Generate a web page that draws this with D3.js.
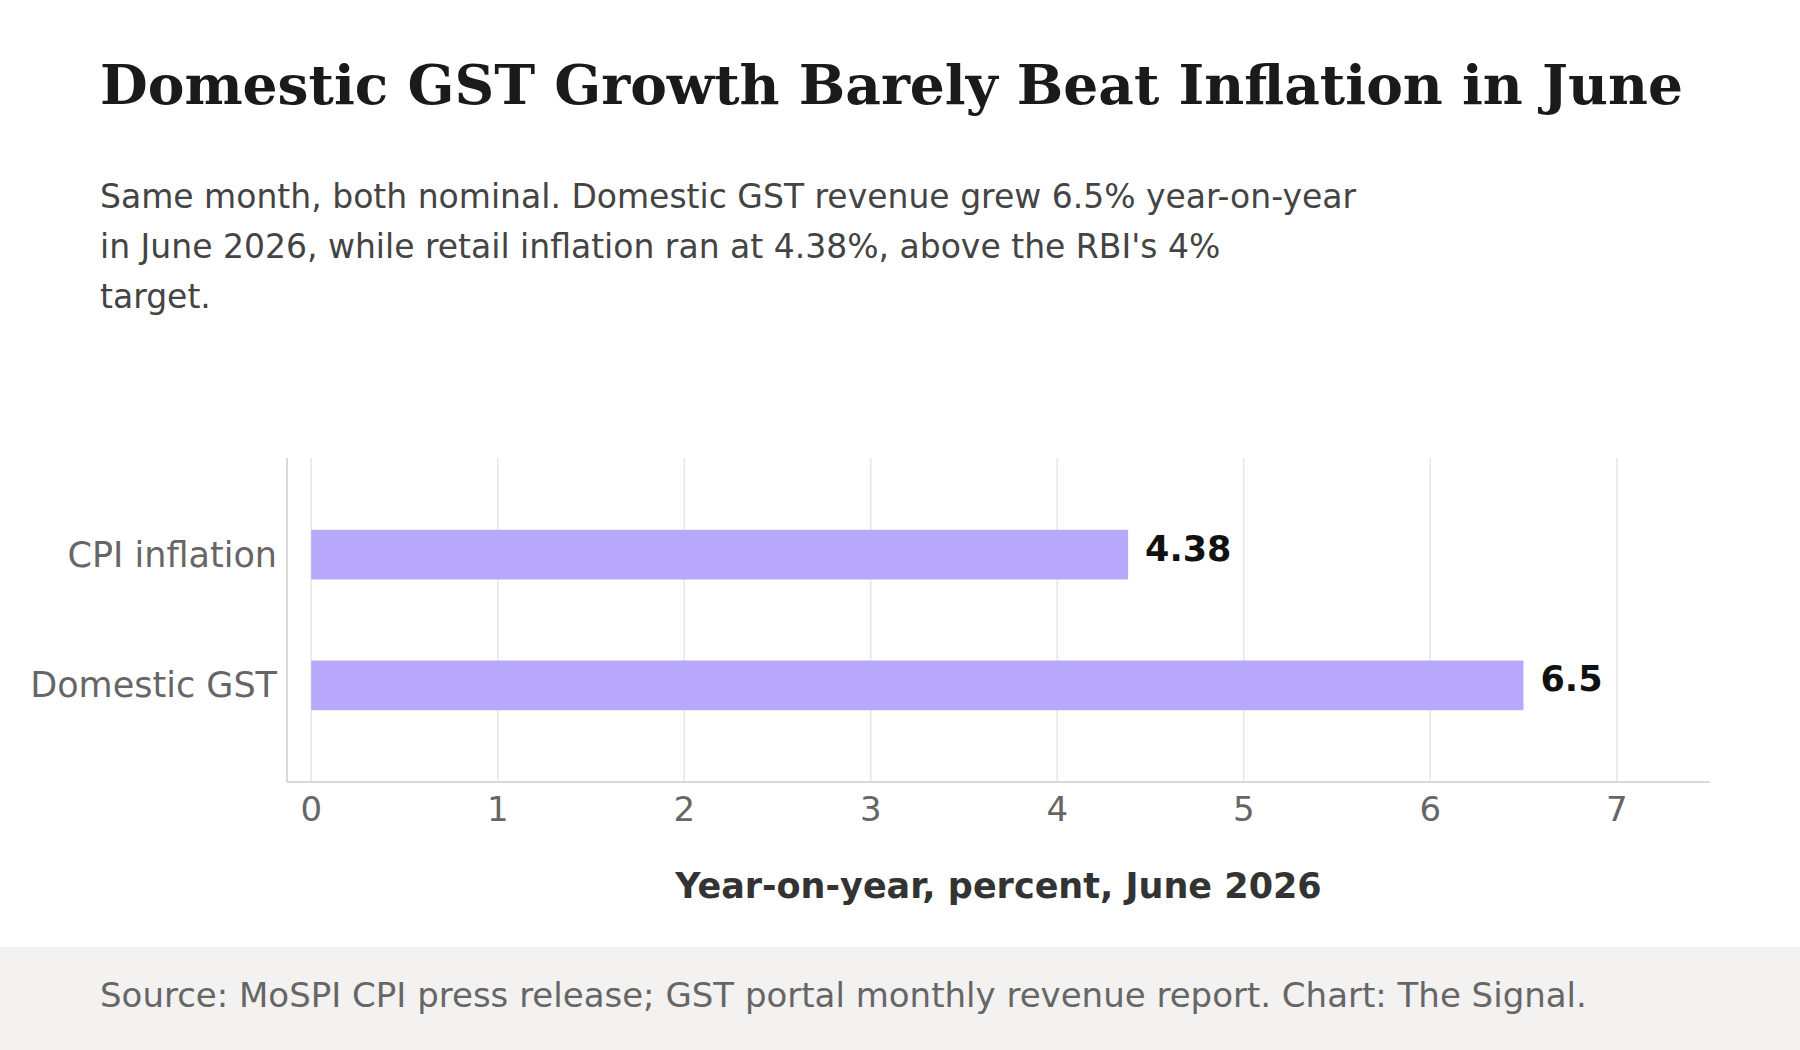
<!DOCTYPE html>
<html><head><meta charset="utf-8">
<script src="https://cdn.jsdelivr.net/npm/d3@7"></script>
<style>body{margin:0;background:#fff}</style>
</head><body>
<script>
const categories = ["CPI inflation", "Domestic GST"];
const values = [4.38, 6.5];
const ticks = [0, 1, 2, 3, 4, 5, 6, 7];

const width = 1800, height = 1050;
const svg = d3.select("body").append("svg").attr("width", width).attr("height", height);

svg.append("text").attr("x", 100).attr("y", 104)
  .attr("font-family", "DejaVu Serif").attr("font-weight", "bold").attr("font-size", 55)
  .attr("fill", "#1a1a1a").text("Domestic GST Growth Barely Beat Inflation in June");

const sub = ["Same month, both nominal. Domestic GST revenue grew 6.5% year-on-year",
  "in June 2026, while retail inflation ran at 4.38%, above the RBI's 4%", "target."];
svg.selectAll(".sub").data(sub).join("text")
  .attr("x", 100).attr("y", (d, i) => 208 + i * 50)
  .attr("font-family", "DejaVu Sans").attr("font-size", 33).attr("fill", "#444").text(d => d);

const plotL = 287, plotR = 1710, plotT = 458, plotB = 782;
const x = d3.scaleLinear().domain([-0.13, 7.5]).range([plotL, plotR]);
const y = d3.scaleBand().domain(categories).range([plotT, plotB]).paddingInner(0.62).paddingOuter(0.55);

svg.selectAll(".grid").data(ticks).join("line")
  .attr("x1", d => x(d)).attr("x2", d => x(d)).attr("y1", plotT).attr("y2", plotB)
  .attr("stroke", "#e6e6e6").attr("stroke-width", 1.5);
svg.append("line").attr("x1", plotL).attr("x2", plotL).attr("y1", plotT).attr("y2", plotB).attr("stroke", "#ccc").attr("stroke-width", 1.5);
svg.append("line").attr("x1", plotL).attr("x2", plotR).attr("y1", plotB).attr("y2", plotB).attr("stroke", "#ccc").attr("stroke-width", 1.5);

svg.selectAll(".bar").data(values).join("rect")
  .attr("x", x(0)).attr("y", (d, i) => y(categories[i]))
  .attr("width", d => x(d) - x(0)).attr("height", y.bandwidth()).attr("fill", "#b8a9fd");

svg.selectAll(".val").data(values).join("text")
  .attr("x", d => x(d) + 17).attr("y", (d, i) => y(categories[i]) + y.bandwidth() / 2 + 6)
  .attr("font-family", "DejaVu Sans").attr("font-weight", "bold").attr("font-size", 35)
  .attr("fill", "#111").text(d => d);

svg.selectAll(".cat").data(categories).join("text")
  .attr("x", plotL - 10).attr("y", d => y(d) + y.bandwidth() / 2 + 12).attr("text-anchor", "end")
  .attr("font-family", "DejaVu Sans").attr("font-size", 35).attr("fill", "#666").text(d => d);

svg.selectAll(".tick").data(ticks).join("text")
  .attr("x", d => x(d)).attr("y", 821).attr("text-anchor", "middle")
  .attr("font-family", "DejaVu Sans").attr("font-size", 34).attr("fill", "#666").text(d => d);

svg.append("text").attr("x", (plotL + plotR) / 2).attr("y", 898).attr("text-anchor", "middle")
  .attr("font-family", "DejaVu Sans").attr("font-weight", "bold").attr("font-size", 35)
  .attr("fill", "#333").text("Year-on-year, percent, June 2026");

svg.append("rect").attr("x", 0).attr("y", 947).attr("width", width).attr("height", height - 947).attr("fill", "#f3f2f1");
svg.append("text").attr("x", 100).attr("y", 1007)
  .attr("font-family", "DejaVu Sans").attr("font-size", 34).attr("fill", "#666")
  .text("Source: MoSPI CPI press release; GST portal monthly revenue report. Chart: The Signal.");
</script>
</body></html>
